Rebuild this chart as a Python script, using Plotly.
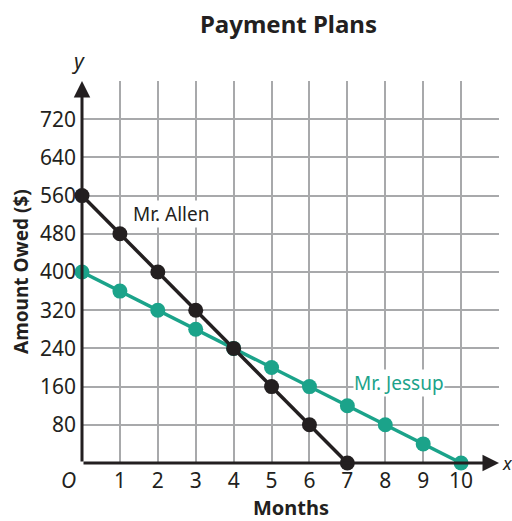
import plotly.graph_objects as go

allen_months = [0, 1, 2, 3, 4, 5, 6, 7]
allen_owed = [560, 480, 400, 320, 240, 160, 80, 0]
jessup_months = [0, 1, 2, 3, 4, 5, 6, 7, 8, 9, 10]
jessup_owed = [400, 360, 320, 280, 240, 200, 160, 120, 80, 40, 0]

x_ticks = [1, 2, 3, 4, 5, 6, 7, 8, 9, 10, 11]
x_ticktext = ["1", "2", "3", "4", "5", "6", "7", "8", "9", "10", ""]
y_ticks = [80, 160, 240, 320, 400, 480, 560, 640, 720, 800]
y_ticktext = ["80", "160", "240", "320", "400", "480", "560", "640", "720", ""]

BLACK = "#231f20"
TEAL = "#1ba38a"
GRID = "#a8a9ab"
FONT = "Noto Sans"

fig = go.Figure()
fig.add_trace(go.Scatter(x=jessup_months, y=jessup_owed, mode="lines+markers",
                         line=dict(color=TEAL, width=3.5),
                         marker=dict(color=TEAL, size=15), cliponaxis=False,
                         showlegend=False))
fig.add_trace(go.Scatter(x=allen_months, y=allen_owed, mode="lines+markers",
                         line=dict(color=BLACK, width=3.5),
                         marker=dict(color=BLACK, size=15), cliponaxis=False,
                         showlegend=False))

# axis lines with arrows
fig.add_annotation(x=11, y=0, ax=0, ay=0, xref="x", yref="y", axref="x", ayref="y",
                   showarrow=True, arrowhead=2, arrowsize=1.1, arrowwidth=3,
                   arrowcolor=BLACK, text="")
fig.add_annotation(x=0, y=800, ax=0, ay=0, xref="x", yref="y", axref="x", ayref="y",
                   showarrow=True, arrowhead=2, arrowsize=1.1, arrowwidth=3,
                   arrowcolor=BLACK, text="")

fig.add_annotation(x=2.35, y=522, text="Mr. Allen", showarrow=False,
                   font=dict(family=FONT, size=19, color=BLACK), bgcolor="white",
                   borderpad=0)
fig.add_annotation(x=8.37, y=167, text="Mr. Jessup", showarrow=False,
                   font=dict(family=FONT, size=19, color=TEAL), bgcolor="white",
                   borderpad=0)
fig.add_annotation(x=0, y=0, xref="x", yref="y", text="<i>O</i>", showarrow=False,
                   xshift=-14, yshift=-17, font=dict(family=FONT, size=21, color=BLACK))
fig.add_annotation(x=0, y=800, xref="x", yref="y", text="<i>y</i>", showarrow=False,
                   xshift=-4, yshift=20, font=dict(family=FONT, size=21, color=BLACK))
fig.add_annotation(x=11, y=0, xref="x", yref="y", text="<i>x</i>", showarrow=False,
                   xshift=1, yshift=0, xanchor="left",
                   font=dict(family=FONT, size=18, color=BLACK))

fig.update_layout(
    width=512, height=521,
    margin=dict(l=82, r=13, t=81, b=58),
    paper_bgcolor="white", plot_bgcolor="white",
    title=dict(text="<b>Payment Plans</b>", x=288.5 / 512, xanchor="center",
               y=1 - 25 / 521, yanchor="middle",
               font=dict(family=FONT, size=24, color=BLACK)),
    font=dict(family=FONT, color=BLACK),
    xaxis=dict(range=[0, 11], tickmode="array", tickvals=x_ticks, ticktext=x_ticktext,
               showgrid=True, gridcolor=GRID, gridwidth=1.5, zeroline=False,
               showline=False, ticks="", ticklabelstandoff=3, automargin=False,
               tickfont=dict(family=FONT, size=21, color=BLACK)),
    yaxis=dict(range=[0, 800], tickmode="array", tickvals=y_ticks, ticktext=y_ticktext,
               showgrid=True, gridcolor=GRID, gridwidth=1.5, zeroline=False,
               showline=False, ticks="", ticklabelstandoff=5, automargin=False,
               tickfont=dict(family=FONT, size=21, color=BLACK)),
)

# axis titles positioned in pixel terms, converted to paper coordinates
pw, ph = 512 - 82 - 13, 521 - 81 - 58
fig.add_annotation(x=(291 - 82) / pw, y=(521 - 58 - 507) / ph, xref="paper", yref="paper",
                   text="<b>Months</b>", showarrow=False, yanchor="middle",
                   font=dict(family=FONT, size=20, color=BLACK))
fig.add_annotation(x=(21 - 82) / pw, y=(521 - 58 - 272) / ph, xref="paper", yref="paper",
                   text="<b>Amount Owed ($)</b>", textangle=-90, showarrow=False,
                   yanchor="middle", xanchor="center",
                   font=dict(family=FONT, size=19, color=BLACK))

fig.write_html("out.html", config={"displayModeBar": False})

# remove the default page margin so the figure sits at the window origin
with open("out.html", encoding="utf-8") as f:
    html = f.read()
html = html.replace("<head>", "<head><style>html,body{margin:0;padding:0;overflow:hidden}</style>", 1)
with open("out.html", "w", encoding="utf-8") as f:
    f.write(html)
